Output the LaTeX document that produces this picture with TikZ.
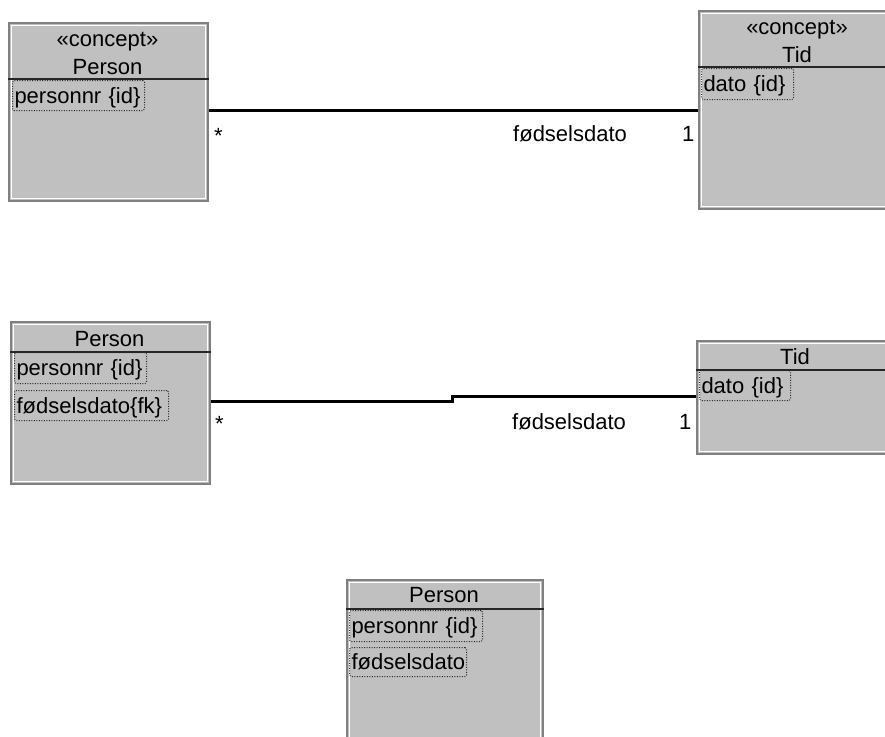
\documentclass[tikz,border=0pt]{standalone}
\usepackage{fontspec}
\setmainfont{Liberation Sans}
\definecolor{boxfill}{RGB}{192,192,192}
\definecolor{boxedge}{RGB}{128,128,128}
\definecolor{dotc}{RGB}{40,40,40}
\tikzset{
  cls/.style={draw=boxedge, line width=2pt, fill=boxfill, anchor=north west, inner sep=0pt,
    path picture={\draw[white, line width=1pt]
      ([shift={(2.5pt,-2.5pt)}]path picture bounding box.north west) rectangle
      ([shift={(-2.5pt,2.5pt)}]path picture bounding box.south east);}},
  hdr/.style={anchor=base, inner sep=0pt, font=\fontsize{22}{25}\selectfont},
  sep/.style={draw=black!85, line width=2pt},
  attr/.style={draw=dotc, dash pattern=on 1pt off 1.5pt, line width=1pt, rounded corners=1.5pt, anchor=north west,
    inner xsep=2pt, inner ysep=0pt, align=left, text height=18pt, text depth=3pt,
    font=\fontsize{22}{25}\selectfont},
  assoc/.style={draw=black, line width=3pt},
  lbl/.style={anchor=base west, inner sep=0pt, font=\fontsize{22}{25}\selectfont},
}
\begin{document}
\begin{tikzpicture}[x=1pt,y=-1pt]
\useasboundingbox (0,0) rectangle (885,736);
\clip (0,0) rectangle (885,736);
\fill[white] (0,0) rectangle (885,736);

% ---- top row
\node[cls, minimum width=199pt, minimum height=178pt] (b1) at (8,22) {};
\node[hdr] (b1s) at (107.5,46) {«concept»};
\node[hdr] (b1n) at (107.5,74) {Person};
\draw[sep] (b1.west |- 0,79) -- (b1.east |- 0,79);
\node[attr, minimum width=132pt, minimum height=30pt, text width=128pt] (b1a) at (12,80) {personnr {\{}id{\}}};

\node[cls, minimum width=198pt, minimum height=198pt] (b2) at (698,10) {};
\node[hdr] (b2s) at (797,34) {«concept»};
\node[hdr] (b2n) at (797,62) {Tid};
\draw[sep] (b2.west |- 0,67) -- (b2.east |- 0,67);
\node[attr, minimum width=92pt, minimum height=31pt, text width=88pt] (b2a) at (701,68) {dato {\{}id{\}}};

\coordinate (y1) at (0,110);
\draw[assoc] (b1.east |- y1) -- (b2.west |- y1);
\node[lbl] (m1a) at (214,143) {*};
\node[lbl] (r1) at (513,141) {fødselsdato};
\node[lbl] (m1b) at (682,141) {1};

% ---- middle row
\node[cls, minimum width=199pt, minimum height=162pt] (b3) at (10,321) {};
\node[hdr] (b3n) at (109.5,346) {Person};
\draw[sep] (b3.west |- 0,352) -- (b3.east |- 0,352);
\node[attr, minimum width=132pt, minimum height=31pt, text width=128pt] (b3a) at (14,352) {personnr {\{}id{\}}};
\node[attr, minimum width=154pt, minimum height=30pt, text width=150pt] (b3b) at (14,390) {fødselsdato{\{}fk{\}}};

\node[cls, minimum width=198pt, minimum height=113pt] (b4) at (696,340) {};
\node[hdr] (b4n) at (795,364) {Tid};
\draw[sep] (b4.west |- 0,370) -- (b4.east |- 0,370);
\node[attr, minimum width=91pt, minimum height=30pt, text width=87pt] (b4a) at (699,370) {dato {\{}id{\}}};

\coordinate (y2a) at (0,401);
\coordinate (s1) at (452,401);
\coordinate (s2) at (452,396);
\draw[assoc] (b3.east |- y2a) -- (s1) -- (s2) -- (b4.west |- s2);
\node[lbl] (m2a) at (215,431) {*};
\node[lbl] (r2) at (512,429) {fødselsdato};
\node[lbl] (m2b) at (679,429) {1};

% ---- bottom
\node[cls, minimum width=196pt, minimum height=200pt] (b5) at (346,579) {};
\node[hdr] (b5n) at (444,602) {Person};
\draw[sep] (b5.west |- 0,609) -- (b5.east |- 0,609);
\node[attr, minimum width=133pt, minimum height=31pt, text width=129pt] (b5a) at (349,610) {personnr {\{}id{\}}};
\node[attr, minimum width=117pt, minimum height=29pt, text width=113pt] (b5b) at (349,647) {fødselsdato};
\end{tikzpicture}
\end{document}
